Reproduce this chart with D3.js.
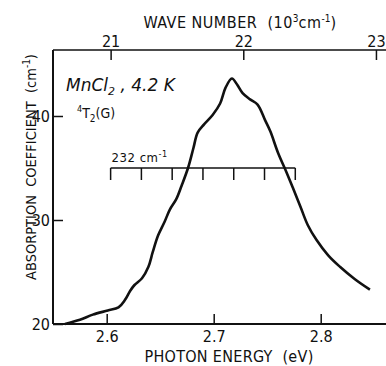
<!DOCTYPE html>
<html><head><meta charset="utf-8">
<script src="https://cdn.jsdelivr.net/npm/d3@7"></script>
<style>
body{margin:0;background:#fff;}
text{font-family:"DejaVu Sans Condensed","DejaVu Sans",sans-serif;font-stretch:condensed;fill:#111;}
</style></head>
<body><svg id="c" width="386" height="366"></svg>
<script>
// photon energy (eV) and absorption coefficient (cm^-1)
const energy = [2.561,2.575,2.587,2.601,2.611,2.617,2.622,2.626,2.633,2.639,2.643,2.648,2.654,2.659,2.665,2.670,2.676,2.681,2.685,2.691,2.699,2.706,2.711,2.717,2.722,2.727,2.734,2.741,2.748,2.753,2.760,2.768,2.774,2.781,2.788,2.796,2.807,2.818,2.832,2.846];
const absorption = [20.0,20.4,20.9,21.3,21.6,22.3,23.2,23.75,24.4,25.5,26.9,28.5,29.8,31.0,32.0,33.3,35.0,36.9,38.4,39.2,40.1,41.2,42.7,43.6,43.0,42.2,41.6,41.1,39.6,38.5,36.5,34.6,33.1,31.3,29.5,28.1,26.6,25.5,24.3,23.3];
const energyTicks = [2.6,2.7,2.8];
const absTicks = [20,30,40];
const waveTicks = [21,22,23]; // 10^3 cm^-1
const barStartWave = 21000; // cm^-1
const barStep = 232; // cm^-1
const barCount = 6;
const barLevel = 35;
const eVperCm = 1.23984e-4;

const svg = d3.select("#c");
const L = 53, T = 50, B = 324;
const x = d3.scaleLinear().domain([2.6,2.8]).range([106.7,320.7]);
const y = d3.scaleLinear().domain([20,40]).range([B,116]);
const R = 390;

// frame
svg.append("line").attr("x1",L).attr("x2",R).attr("y1",T).attr("y2",T).attr("stroke","#111").attr("stroke-width",1.5);

// bottom axis
const xb = svg.append("g").attr("transform",`translate(0,${B})`)
  .call(d3.axisBottom(x).tickValues(energyTicks).tickFormat(d3.format(".1f")).tickSizeInner(-10).tickSizeOuter(0).tickPadding(7));
xb.select(".domain").attr("d",`M${L},0H${R}`).attr("stroke","#111").attr("stroke-width",2);
xb.selectAll(".tick line").attr("stroke","#111").attr("stroke-width",1.5);
xb.selectAll("text").attr("font-size",16).attr("fill","#111");

// left axis
const yl = svg.append("g").attr("transform",`translate(${L},0)`)
  .call(d3.axisLeft(y).tickValues(absTicks).tickSizeInner(-10).tickSizeOuter(0).tickPadding(3));
yl.select(".domain").attr("d",`M0,${T}V${B}`).attr("stroke","#111").attr("stroke-width",2);
yl.selectAll(".tick line").attr("stroke","#111").attr("stroke-width",1.5);
yl.selectAll("text").attr("font-size",16).attr("fill","#111");

// top axis (wave number)
const xw = d3.scaleLinear().domain([21,23]).range([x(21*eVperCm*1000), x(23*eVperCm*1000)]);
const xt = svg.append("g").attr("transform",`translate(0,${T})`)
  .call(d3.axisTop(xw).tickValues(waveTicks).tickFormat(d3.format("d")).tickSizeInner(-10).tickSizeOuter(0).tickPadding(3));
xt.select(".domain").remove();
xt.selectAll(".tick line").attr("stroke","#111").attr("stroke-width",1.5);
xt.selectAll("text").attr("font-size",16).attr("fill","#111");

// axis titles
const xtitle = svg.append("text").attr("x",229).attr("y",362).attr("text-anchor","middle").attr("font-size",16).attr("letter-spacing",0.3).attr("xml:space","preserve");
xtitle.text("PHOTON ENERGY  (eV)");

const ttl = svg.append("text").attr("x",240).attr("y",28).attr("text-anchor","middle").attr("font-size",16).attr("letter-spacing",0.5).attr("xml:space","preserve");
ttl.append("tspan").text("WAVE NUMBER  (10");
ttl.append("tspan").text("3").attr("font-size",10).attr("dy",-6).attr("letter-spacing",0);
ttl.append("tspan").text("cm").attr("dy",6);
ttl.append("tspan").text("-1").attr("font-size",10).attr("dy",-6).attr("letter-spacing",0);
ttl.append("tspan").text(")").attr("dy",6);

const yt = svg.append("text").attr("transform","translate(36,167) rotate(-90)").attr("text-anchor","middle").attr("font-size",14.5).attr("xml:space","preserve");
yt.append("tspan").text("ABSORPTION  COEFFICIENT  (cm");
yt.append("tspan").text("-1").attr("font-size",10).attr("dy",-6);
yt.append("tspan").text(")").attr("dy",6);

// curve
const line = d3.line().x((d,i)=>x(energy[i])).y((d,i)=>y(absorption[i])).curve(d3.curveCatmullRom.alpha(0.5));
svg.append("path").datum(energy).attr("d",line).attr("fill","none").attr("stroke","#111").attr("stroke-width",2.6).attr("stroke-linejoin","round");

// 232 cm-1 scale bar
const barE = d3.range(barCount+1).map(k => (barStartWave + k*barStep)*eVperCm);
svg.append("line").attr("x1",x(barE[0])).attr("x2",x(barE[barCount])).attr("y1",y(barLevel)).attr("y2",y(barLevel)).attr("stroke","#111").attr("stroke-width",1.5);
svg.selectAll(".bt").data(barE).enter().append("line").attr("x1",d=>x(d)).attr("x2",d=>x(d)).attr("y1",y(barLevel)).attr("y2",y(barLevel)+12).attr("stroke","#111").attr("stroke-width",1.5);
const bl = svg.append("text").attr("x",x(barE[0])+1).attr("y",y(barLevel)-6).attr("font-size",13).attr("letter-spacing",0.5);
bl.append("tspan").text("232 cm");
bl.append("tspan").text("-1").attr("font-size",9).attr("dy",-5);

// annotation
const a1 = svg.append("text").attr("x",66).attr("y",91).attr("font-size",17).attr("font-style","italic").style("font-stretch","normal").style("font-family","'DejaVu Sans',sans-serif");
a1.append("tspan").text("MnCl");
a1.append("tspan").text("2").attr("font-size",11).attr("dy",4);
a1.append("tspan").text(" , 4.2 K").attr("dy",-4);
const a2 = svg.append("text").attr("x",77).attr("y",118).attr("font-size",14);
a2.append("tspan").text("4").attr("font-size",9).attr("dy",-6);
a2.append("tspan").text("T").attr("dy",6);
a2.append("tspan").text("2").attr("font-size",10).attr("dy",4);
a2.append("tspan").text("(G)").attr("dy",-4);
</script></body></html>
